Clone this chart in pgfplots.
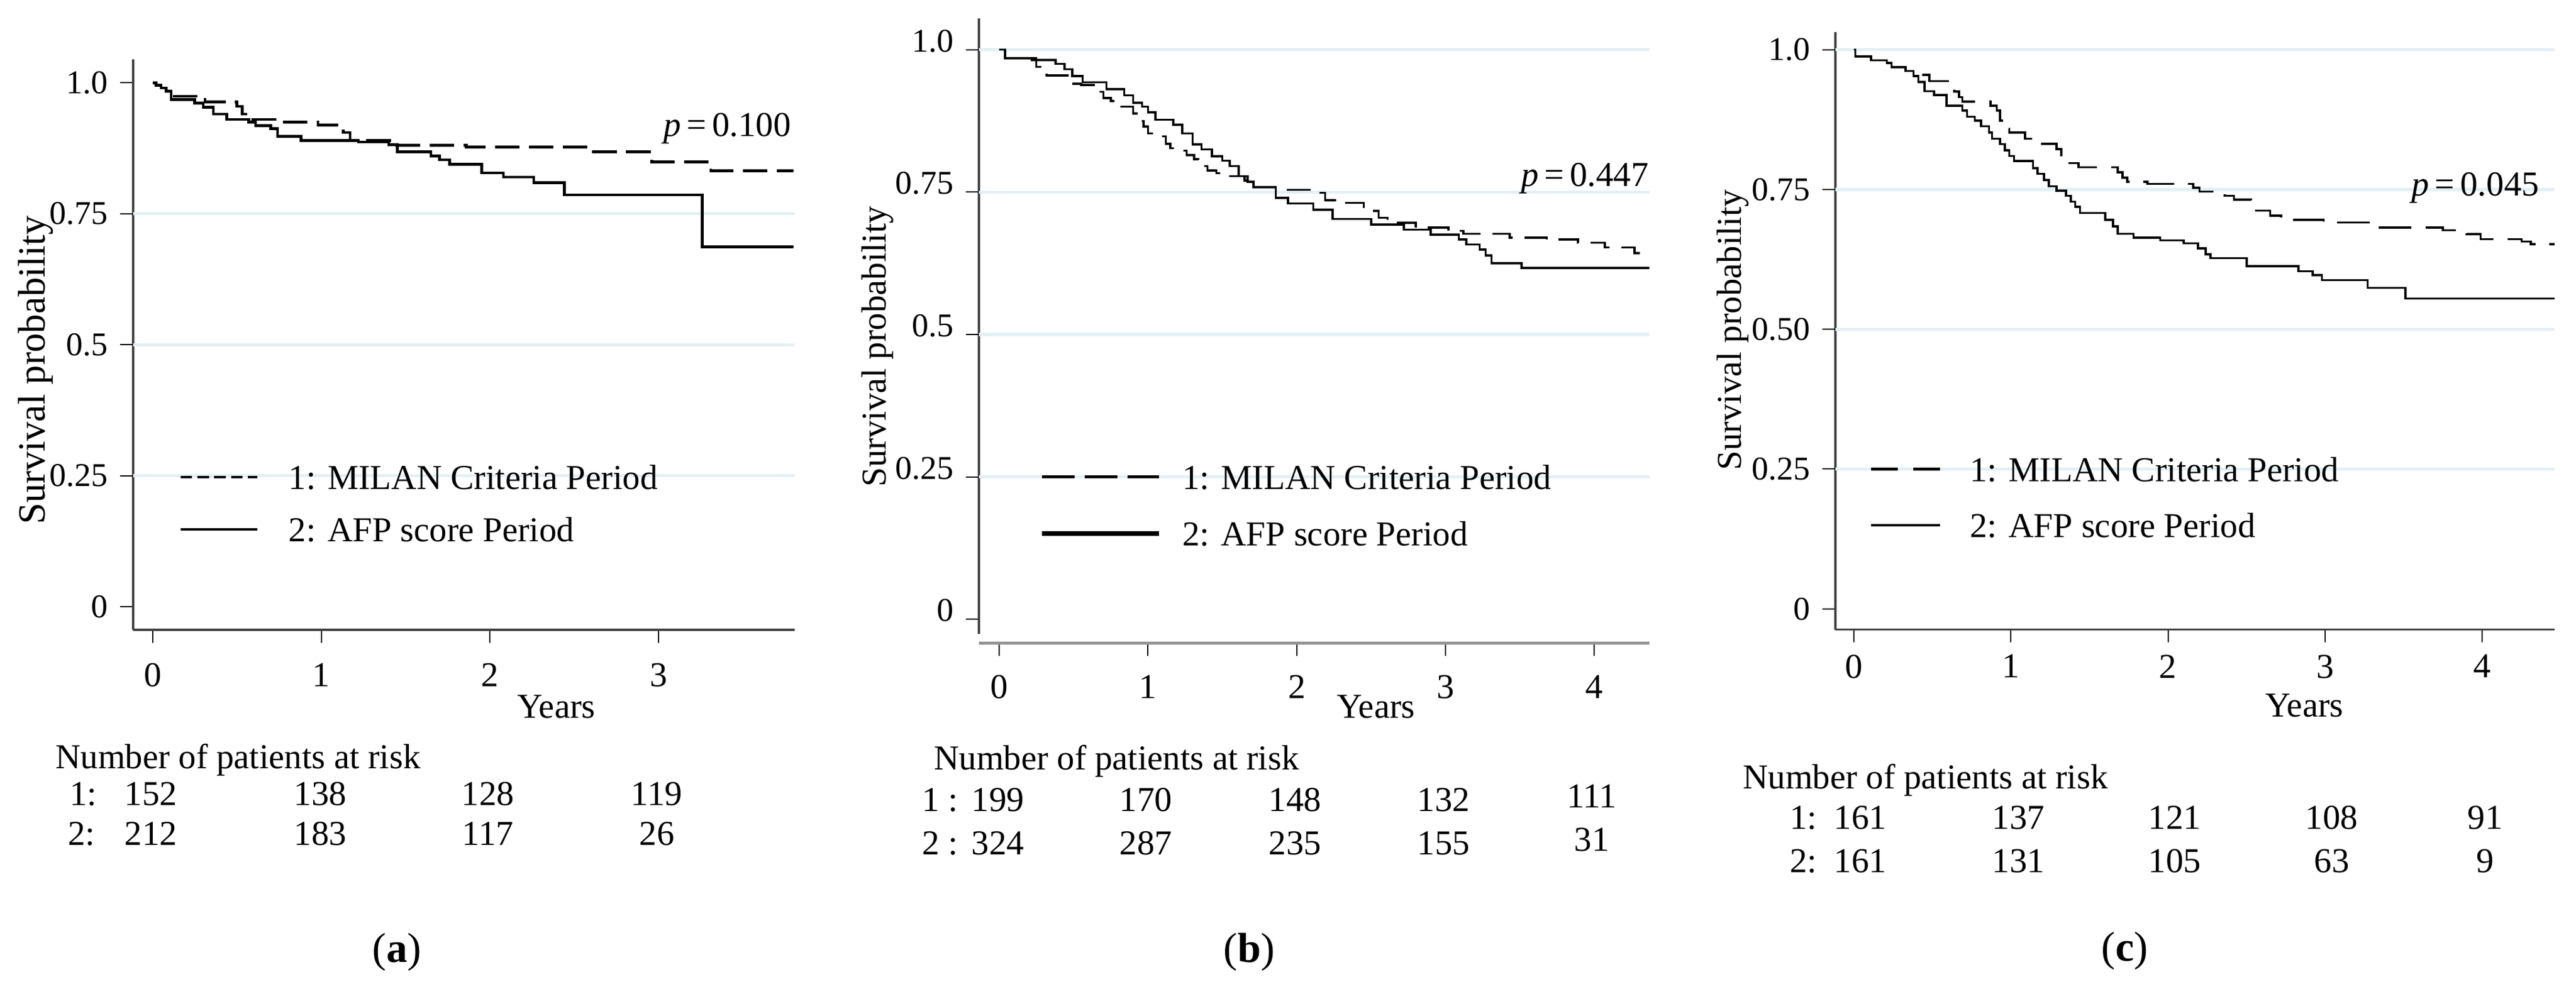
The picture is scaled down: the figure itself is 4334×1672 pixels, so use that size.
\documentclass[border=0pt]{standalone}
\usepackage{fontspec}
\setmainfont{Liberation Serif}
\usepackage{pgfplots}
\pgfplotsset{compat=1.18}
\definecolor{gridcol}{RGB}{228,240,244}

\pgfplotsset{
  km/.style={
    scale only axis, enlargelimits=false,
    axis x line=bottom, axis y line=left,
    axis line style={-, black!75, line width=0.55pt},
    tick align=outside, major tick length=3.7pt,
    tick style={black, line width=0.35pt},
    /pgf/number format/assume math mode=true,
    xticklabel style={font=\fontsize{10}{12}\selectfont},
    yticklabel style={font=\fontsize{9.5}{11}\selectfont},
    extra y tick style={grid=major},
    major grid style={gridcol, line width=0.9pt},
    legend cell align=left,
    legend style={draw=none, fill=none, inner sep=0pt, anchor=north west,
      nodes={inner sep=0pt, text height=7pt, text depth=0pt, font=\fontsize{10}{12}\selectfont}},
  },
}
\tikzset{t/.style={inner sep=0pt, text height=6.6pt, text depth=0pt, font=\fontsize{10}{12}\selectfont}}

\begin{document}
\begin{tikzpicture}[x=0.17pt,y=0.17pt]
\path[use as bounding box] (0,0) rectangle (4334,-1672);

% ---------- (a) ----------
\begin{axis}[km, at={(38.08pt,-180.2pt)}, anchor=south west,
  width=189.21pt, height=163.29pt,
  xmin=-0.116, xmax=3.807, ymin=-0.044, ymax=1.045,
  xtick={0,1,2,3}, xticklabel style={yshift=-2.4pt},
  ytick={0,1}, yticklabels={0,1.0},
  extra y ticks={0.25,0.5,0.75}, extra y tick labels={0.25,0.5,0.75},
  legend image code/.code={\draw[#1] (0pt,0pt) -- (21.9pt,0pt);},
  legend style={at={(axis description cs:0.0692,0.2905)}, row sep=7.96pt,
    /tikz/every odd column/.append style={column sep=8.7pt}},
]
\addplot[forget plot, const plot, line width=0.8pt, dash pattern=on 7pt off 2.7pt] coordinates {
(0,1.0)(0.02,0.995)(0.05,0.99)(0.08,0.984)(0.12,0.974)(0.28,0.968)(0.31,0.963)(0.50,0.955)
(0.53,0.94)(0.58,0.930)(0.78,0.925)(0.98,0.919)(1.13,0.905)(1.17,0.890)(1.43,0.881)(1.86,0.877)
(2.60,0.868)(2.96,0.849)(3.31,0.832)(3.80,0.832)};
\addplot[forget plot, const plot, line width=0.8pt] coordinates {
(0,1.0)(0.02,0.995)(0.05,0.99)(0.08,0.984)(0.11,0.968)(0.25,0.961)(0.30,0.953)(0.36,0.94)
(0.44,0.93)(0.57,0.925)(0.61,0.918)(0.70,0.912)(0.74,0.898)(0.88,0.890)(1.22,0.887)(1.40,0.882)
(1.45,0.868)(1.65,0.860)(1.70,0.853)(1.76,0.844)(1.95,0.828)(2.08,0.820)(2.26,0.809)(2.44,0.786)
(3.26,0.687)(3.80,0.687)};
\addlegendimage{line width=0.6pt, dash pattern=on 3.3pt off 1.5pt}
\addlegendentry{1: MILAN Criteria Period}
\addlegendimage{line width=0.6pt}
\addlegendentry{2: AFP score Period}
\end{axis}

% ---------- (b) ----------
\begin{axis}[km, at={(279.99pt,-184.025pt)}, anchor=south west,
  width=191.76pt, height=178.76pt,
  xmin=-0.136, xmax=4.37, ymin=-0.042, ymax=1.055,
  xtick={0,1,2,3,4}, xticklabel style={yshift=-1.9pt},
  ytick={0}, yticklabels={0},
  extra y ticks={0.25,0.5,0.75,1}, extra y tick labels={0.25,0.5,0.75,1.0},
  yticklabel style={yshift=2.5pt},
  x axis line style={gray!85, line width=1pt},
  y axis line style={shorten <=2.6pt},
  legend image code/.code={\draw[#1] (0pt,0pt) -- (33.5pt,0pt);},
  legend style={at={(axis description cs:0.0895,0.2867)}, row sep=9.15pt,
    /tikz/every odd column/.append style={column sep=6pt}},
]
\addplot[forget plot, const plot, line width=0.6pt, dash pattern=on 6.8pt off 3.4pt] coordinates {
(0,1.0)(0.04,0.985)(0.25,0.97)(0.32,0.955)(0.47,0.94)(0.55,0.938)(0.65,0.926)(0.70,0.915)
(0.75,0.91)(0.80,0.90)(0.90,0.888)(0.93,0.875)(0.97,0.865)(1.0,0.853)(1.08,0.848)(1.12,0.835)
(1.15,0.827)(1.21,0.823)(1.26,0.815)(1.31,0.808)(1.34,0.796)(1.40,0.788)(1.46,0.783)(1.52,0.778)
(1.65,0.770)(1.71,0.759)(1.86,0.754)(2.10,0.749)(2.19,0.736)(2.28,0.731)(2.45,0.717)(2.55,0.705)
(2.61,0.696)(2.80,0.688)(3.02,0.682)(3.12,0.677)(3.43,0.670)(3.68,0.667)(3.89,0.661)(4.07,0.653)
(4.27,0.643)(4.37,0.643)};
\addplot[forget plot, const plot, line width=0.6pt] coordinates {
(0,1.0)(0.04,0.985)(0.22,0.982)(0.38,0.975)(0.44,0.966)(0.49,0.954)(0.56,0.943)(0.72,0.931)
(0.84,0.92)(0.90,0.907)(0.96,0.90)(1.0,0.89)(1.05,0.877)(1.17,0.868)(1.23,0.853)(1.30,0.834)
(1.36,0.825)(1.43,0.813)(1.50,0.805)(1.55,0.796)(1.61,0.778)(1.67,0.768)(1.71,0.759)(1.86,0.74)
(1.94,0.730)(2.11,0.719)(2.24,0.703)(2.50,0.693)(2.72,0.684)(2.90,0.675)(3.09,0.667)(3.14,0.658)
(3.23,0.649)(3.27,0.639)(3.31,0.625)(3.51,0.617)(4.37,0.617)};
\addlegendimage{line width=0.9pt, dash pattern=on 9.35pt off 2.9pt}
\addlegendentry{1: MILAN Criteria Period}
\addlegendimage{line width=1.3pt}
\addlegendentry{2: AFP score Period}
\end{axis}

% ---------- (c) ----------
\begin{axis}[km, at={(524.96pt,-180.115pt)}, anchor=south west,
  width=205.7pt, height=171.02pt,
  xmin=-0.117, xmax=4.461, ymin=-0.037, ymax=1.032,
  xtick={0,1,2,3,4},
  ytick={0}, yticklabels={0},
  extra y ticks={0.25,0.5,0.75,1}, extra y tick labels={0.25,0.50,0.75,1.0},
  legend image code/.code={\draw[#1] (0pt,0pt) -- (19.7pt,0pt);},
  legend style={at={(axis description cs:0.0463,0.2898)}, row sep=9pt,
    /tikz/every odd column/.append style={column sep=8.2pt}},
]
\addplot[forget plot, const plot, line width=0.6pt, dash pattern=on 9.4pt off 4pt] coordinates {
(0,1.0)(0.01,0.988)(0.11,0.981)(0.21,0.976)(0.24,0.969)(0.33,0.962)(0.40,0.955)(0.48,0.944)
(0.60,0.938)(0.64,0.925)(0.67,0.915)(0.69,0.907)(0.87,0.900)(0.91,0.891)(0.93,0.873)(0.96,0.859)
(0.99,0.852)(1.09,0.841)(1.15,0.832)(1.29,0.822)(1.32,0.806)(1.35,0.797)(1.43,0.790)(1.68,0.781)
(1.71,0.771)(1.74,0.764)(1.87,0.760)(2.16,0.753)(2.20,0.746)(2.36,0.739)(2.42,0.732)(2.53,0.723)
(2.55,0.712)(2.65,0.703)(2.72,0.696)(2.99,0.691)(3.32,0.682)(3.75,0.677)(3.90,0.670)(3.99,0.661)
(4.25,0.657)(4.31,0.652)(4.46,0.652)};
\addplot[forget plot, const plot, line width=0.6pt] coordinates {
(0,1.0)(0.01,0.988)(0.11,0.981)(0.21,0.976)(0.24,0.969)(0.33,0.962)(0.38,0.953)(0.41,0.942)
(0.45,0.926)(0.51,0.919)(0.59,0.900)(0.69,0.891)(0.72,0.880)(0.77,0.873)(0.81,0.863)(0.86,0.852)
(0.88,0.841)(0.93,0.831)(0.96,0.820)(0.99,0.810)(1.02,0.801)(1.14,0.788)(1.17,0.778)(1.21,0.767)
(1.24,0.756)(1.29,0.748)(1.35,0.739)(1.38,0.728)(1.41,0.719)(1.44,0.708)(1.60,0.696)(1.65,0.684)
(1.68,0.671)(1.78,0.664)(1.95,0.659)(2.10,0.654)(2.19,0.645)(2.24,0.634)(2.27,0.627)(2.50,0.613)
(2.83,0.604)(2.92,0.597)(2.98,0.588)(3.27,0.574)(3.51,0.555)(4.46,0.555)};
\addlegendimage{line width=0.8pt, dash pattern=on 7.65pt off 4.4pt}
\addlegendentry{1: MILAN Criteria Period}
\addlegendimage{line width=0.8pt}
\addlegendentry{2: AFP score Period}
\end{axis}

% ---------- texts ----------
% (a)
\node[rotate=90, inner sep=0pt, font=\fontsize{11}{13}\selectfont] at (60,-623) {Survival probability};
\node[t] at (936,-1189) {Years};
\node[t, anchor=east] at (1332,-210) {\textit{p}\,=\,0.100};
\node[t, anchor=west] at (92,-1274) {Number of patients at risk};
\node[t, anchor=west] at (116,-1336) {1:};
\node[t, anchor=west] at (113,-1403) {2:};
\foreach \x/\a/\b in {254/152/212, 539/138/183, 821/128/117, 1105/119/26}
  {\node[t] at (\x,-1336) {\a}; \node[t] at (\x,-1403) {\b};}
\node[inner sep=0pt, font=\fontsize{12}{14}\selectfont] at (668,-1602) {(\textbf{a})};
% (b)
\node[rotate=90, inner sep=0pt, font=\fontsize{10}{12}\selectfont] at (1476,-583) {Survival probability};
\node[t] at (2315,-1189) {Years};
\node[t, anchor=east] at (2775,-294.5) {\textit{p}\,=\,0.447};
\node[t, anchor=west] at (1570,-1276) {Number of patients at risk};
\node[t, anchor=west] at (1550,-1346) {1 :};
\node[t, anchor=west] at (1550,-1419) {2 :};
\foreach \x/\a/\b in {1679/199/324, 1928/170/287, 2179/148/235, 2429/132/155}
  {\node[t] at (\x,-1346) {\a}; \node[t] at (\x,-1419) {\b};}
\node[t] at (2678,-1340) {111};
\node[t] at (2678,-1413) {31};
\node[inner sep=0pt, font=\fontsize{12}{14}\selectfont] at (2102,-1602) {(\textbf{b})};
% (c)
\node[rotate=90, inner sep=0pt, font=\fontsize{10}{12}\selectfont] at (2915,-555) {Survival probability};
\node[t] at (3877,-1187) {Years};
\node[t, anchor=east] at (4273,-310) {\textit{p}\,=\,0.045};
\node[t, anchor=west] at (2931,-1308) {Number of patients at risk};
\node[t, anchor=west] at (3010,-1376) {1:};
\node[t, anchor=west] at (3010,-1449) {2:};
\foreach \x/\a/\b in {3130/161/161, 3396/137/131, 3659/121/105, 3923/108/63, 4181/91/9}
  {\node[t] at (\x,-1376) {\a}; \node[t] at (\x,-1449) {\b};}
\node[inner sep=0pt, font=\fontsize{12}{14}\selectfont] at (3575,-1600) {(\textbf{c})};
\end{tikzpicture}
\end{document}
